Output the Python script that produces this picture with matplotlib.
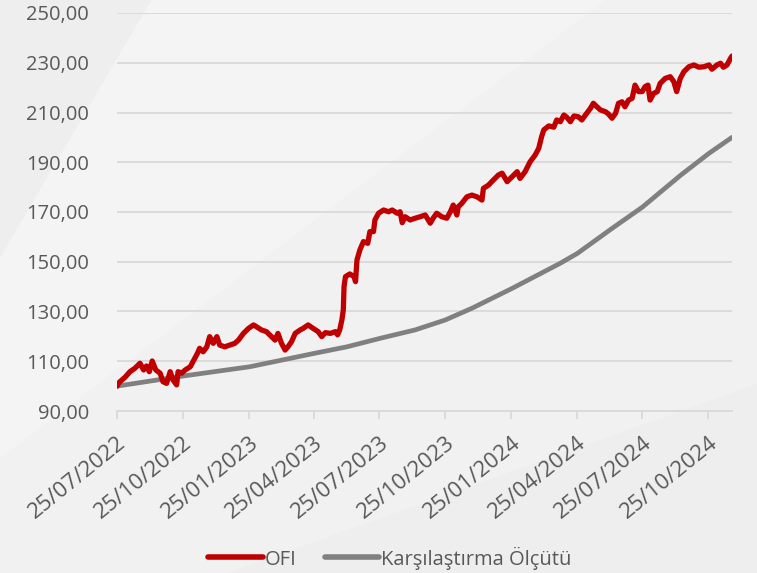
import datetime as dt
import numpy as np
import matplotlib
matplotlib.use("Agg")
import matplotlib.pyplot as plt
import matplotlib.dates as mdates
from matplotlib.patches import Polygon
from matplotlib.ticker import FuncFormatter

plt.rcParams['font.family'] = ['Open Sans', 'DejaVu Sans']

start = dt.date(2022, 7, 25)

# OFI: days since start, index value
ofi_days = [0, 3, 11, 18, 25, 32, 37, 41, 45, 49, 54, 60, 64, 69, 74, 78, 83, 85, 90, 95,
            102, 107, 112, 115, 120, 125, 129, 134, 139, 143, 150, 157, 164, 169, 176, 183,
            190, 194, 201, 208, 215, 220, 224, 229, 234, 238, 243, 248, 255, 259, 266, 273,
            280, 285, 290, 297, 304, 307, 310, 313, 315, 316, 318, 324, 330, 332, 334, 338,
            343, 349, 352, 357, 359, 364, 371, 378, 383, 390, 394, 397, 401, 408, 415, 422,
            429, 436, 440, 445, 452, 459, 464, 468, 473, 475, 480, 487, 494, 501, 508, 510,
            517, 524, 531, 536, 543, 550, 557, 561, 568, 575, 582, 587, 591, 594, 601, 608,
            612, 617, 622, 626, 631, 636, 642, 647, 652, 659, 663, 668, 673, 680, 684, 689,
            694, 698, 703, 707, 712, 717, 721, 726, 731, 735, 739, 742, 747, 752, 756, 763,
            770, 775, 779, 784, 789, 796, 803, 810, 817, 824, 828, 835, 840, 844, 849, 854, 856]
ofi_vals = [100.0, 101.5, 103.5, 105.8, 107.2, 109.2, 106.5, 108.1, 105.8, 110.1, 106.5, 105.2,
            101.8, 101.1, 105.8, 102.5, 100.5, 105.8, 105.2, 106.5, 107.8, 110.5, 113.2, 115.2,
            113.8, 115.8, 119.9, 117.2, 119.9, 116.5, 115.8, 116.5, 117.2, 118.5, 121.2, 123.2,
            124.6, 123.9, 122.6, 121.9, 119.9, 118.5, 121.2, 117.2, 114.5, 115.8, 117.9, 121.2,
            122.6, 123.2, 124.6, 123.2, 121.9, 119.9, 121.5, 121.2, 121.9, 120.6, 122.6, 126.6,
            130.6, 140.0, 144.0, 145.1, 144.0, 142.0, 150.7, 154.7, 158.1, 157.4, 162.1, 162.1,
            166.8, 169.5, 170.8, 170.1, 170.8, 169.5, 170.1, 165.7, 168.1, 166.8, 167.5, 168.1,
            168.8, 165.5, 167.5, 169.5, 168.1, 167.5, 170.1, 172.8, 168.8, 172.1, 173.5, 176.1,
            176.8, 176.1, 174.8, 179.5, 180.8, 182.9, 184.9, 185.6, 182.2, 184.2, 186.2, 183.5,
            186.2, 190.2, 192.9, 195.6, 200.3, 203.0, 204.6, 204.1, 207.0, 206.3, 209.0, 208.1,
            206.3, 208.6, 208.3, 207.0, 209.0, 211.7, 213.7, 212.3, 211.0, 210.3, 209.4, 207.7,
            209.7, 213.7, 214.3, 212.3, 215.0, 215.7, 221.0, 218.4, 218.4, 220.4, 221.0, 215.0,
            217.7, 218.4, 221.7, 223.7, 224.4, 222.4, 218.4, 223.7, 226.4, 228.4, 229.1, 228.2,
            228.4, 229.1, 227.4, 229.1, 229.8, 228.2, 229.1, 231.8, 232.7]

# Benchmark (Karşılaştırma Ölçütü)
bm_days = [0, 93, 185, 275, 320, 366, 415, 457, 494, 550, 617, 641, 689, 731, 785, 824, 856]
bm_vals = [100.0, 104.1, 107.8, 113.2, 115.8, 119.2, 122.6, 126.6, 131.3, 139.3, 149.4,
           153.4, 163.4, 171.9, 184.9, 193.6, 200.0]

tick_dates = [dt.date(2022, 7, 25), dt.date(2022, 10, 25), dt.date(2023, 1, 25),
              dt.date(2023, 4, 25), dt.date(2023, 7, 25), dt.date(2023, 10, 25),
              dt.date(2024, 1, 25), dt.date(2024, 4, 25), dt.date(2024, 7, 25),
              dt.date(2024, 10, 25)]

ofi_dates = [start + dt.timedelta(days=d) for d in ofi_days]
bm_dates = [start + dt.timedelta(days=d) for d in bm_days]

fig = plt.figure(figsize=(7.57, 5.73), dpi=100)
fig.patch.set_facecolor('#f1f1f1')

# subtle diagonal background shading
bg = fig.add_axes([0, 0, 1, 1], zorder=-10)
bg.set_xlim(0, 1)
bg.set_ylim(0, 1)
bg.axis('off')
bg.add_patch(Polygon([(0, 1), (0.2, 1), (0, 0.55)], closed=True, color='#eeeeee', lw=0))
bg.add_patch(Polygon([(0.2, 1), (0.8, 1), (0, 0.2), (0, 0.55)], closed=True, color='#f4f4f4', lw=0))
bg.add_patch(Polygon([(0.3, 0), (1, 0), (1, 0.33)], closed=True, color='#eeeeee', lw=0))

ax = fig.add_axes([117 / 757, 1 - 411 / 573, (732 - 117) / 757, (411 - 13) / 573])
ax.set_facecolor('none')

ax.plot(bm_dates, bm_vals, color='#808080', lw=3.4, label='Karşılaştırma Ölçütü', zorder=3,
        solid_capstyle='round')
ax.plot(ofi_dates, ofi_vals, color='#c00000', lw=3.8, label='OFI', zorder=4,
        solid_capstyle='round', solid_joinstyle='round')

ax.set_ylim(90, 250)
ax.set_yticks(np.arange(90, 251, 20))
ax.yaxis.set_major_formatter(FuncFormatter(lambda v, p: f"{v:.2f}".replace('.', ',')))
ax.set_xlim(start, start + dt.timedelta(days=856))
ax.set_xticks(tick_dates)
ax.xaxis.set_major_formatter(mdates.DateFormatter('%d/%m/%Y'))

ax.grid(axis='y', color='#d9d9d9', lw=1.3)
ax.set_axisbelow(True)
for s in ['top', 'right', 'left']:
    ax.spines[s].set_visible(False)
ax.spines['bottom'].set_color('#d9d9d9')
ax.spines['bottom'].set_linewidth(1.3)

ax.tick_params(axis='y', length=0, pad=20, labelsize=14.5, labelcolor='#595959')
ax.tick_params(axis='x', length=6, width=1.3, color='#d9d9d9', pad=9,
               labelsize=16, labelcolor='#595959')
for lbl in ax.get_xticklabels():
    lbl.set_rotation(39)
    lbl.set_ha('right')
    lbl.set_va('top')
    lbl.set_rotation_mode('anchor')

handles, labels = ax.get_legend_handles_labels()
leg = fig.legend(handles[::-1], labels[::-1], loc='center', bbox_to_anchor=(0.515, 1 - 558 / 573),
                 ncol=2, frameon=False, fontsize=14.5, handlelength=2.7, handletextpad=0.1,
                 columnspacing=1.4, labelcolor='#595959')
for line in leg.get_lines():
    line.set_linewidth(4)

fig.savefig('out.png', dpi=100, facecolor=fig.get_facecolor())
